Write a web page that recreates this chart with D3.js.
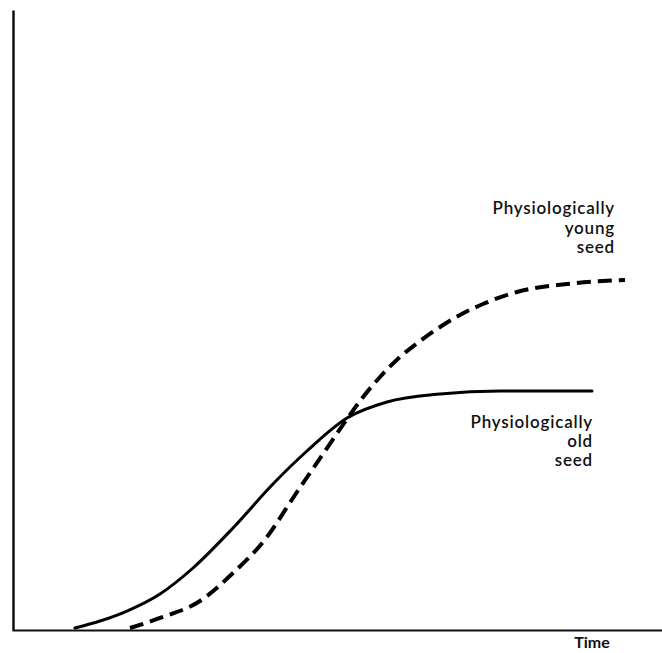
<!DOCTYPE html>
<html><head><meta charset="utf-8">
<script src="https://cdn.jsdelivr.net/npm/d3@7"></script>
<style>body{margin:0;background:#fff}svg{display:block}</style>
</head><body>
<script>
// Data (arbitrary units: time 0-100, response 0-100)
const oldTime  = [9.69, 13.54, 17.69, 22.77, 27.85, 34.0, 40.15, 45.38, 51.54, 57.69, 65.85, 75.08, 89.23];
const oldValue = [0.32, 1.45, 3.06, 5.81, 10.0, 16.45, 23.55, 28.87, 34.19, 36.77, 38.06, 38.55, 38.55];
const youngTime  = [18.15, 22.77, 28.92, 34.0, 39.23, 43.23, 48.46, 51.54, 53.54, 56.62, 59.69, 62.77, 65.85, 68.92, 72.46, 77.69, 85.38, 94.31];
const youngValue = [0.32, 1.94, 4.68, 9.19, 15.0, 21.29, 29.35, 34.03, 36.94, 40.81, 44.03, 46.61, 48.87, 50.81, 52.58, 54.52, 55.81, 56.45];
const youngLabel = ["Physiologically", "young", "seed"];
const oldLabel = ["Physiologically", "old", "seed"];
const xLabel = "Time";

const W = 662, H = 653;
const svg = d3.select("body").append("svg").attr("width", W).attr("height", H);
const x = d3.scaleLinear().domain([0, 100]).range([12, 662]);
const y = d3.scaleLinear().domain([0, 100]).range([630, 10]);

svg.append("g").attr("transform", "translate(0,630)")
  .call(d3.axisBottom(x).tickValues([]).tickSizeOuter(0))
  .select(".domain").attr("stroke", "#111").attr("stroke-width", 2);
svg.append("g").attr("transform", "translate(13,0)")
  .call(d3.axisLeft(y).tickValues([]).tickSizeOuter(0))
  .select(".domain").attr("stroke", "#111").attr("stroke-width", 2.5);

const line = d3.line().x(d => x(d[0])).y(d => y(d[1])).curve(d3.curveMonotoneX);

svg.append("path").datum(d3.zip(oldTime, oldValue))
  .attr("d", line).attr("fill", "none").attr("stroke", "#000")
  .attr("stroke-width", 3).attr("stroke-linecap", "round");
svg.append("path").datum(d3.zip(youngTime, youngValue))
  .attr("d", line).attr("fill", "none").attr("stroke", "#000")
  .attr("stroke-width", 4).attr("stroke-dasharray", "14,7");

const font = "Lato, 'Open Sans', sans-serif";
function label(lines, xr, y0, dy) {
  const t = svg.append("text").attr("font-family", font).attr("font-size", 17)
    .attr("font-weight", 600).attr("letter-spacing", 0.8).attr("text-anchor", "end").attr("fill", "#111");
  lines.forEach((s, i) => t.append("tspan").attr("x", xr).attr("y", y0 + i * dy).text(s));
}
label(youngLabel, 615, 214, 19.5);
label(oldLabel, 593, 428, 19);

svg.append("text").attr("x", 592).attr("y", 648).attr("text-anchor", "middle")
  .attr("font-family", font).attr("font-size", 16).attr("font-weight", 700).attr("fill", "#111")
  .text(xLabel);
</script>
</body></html>
